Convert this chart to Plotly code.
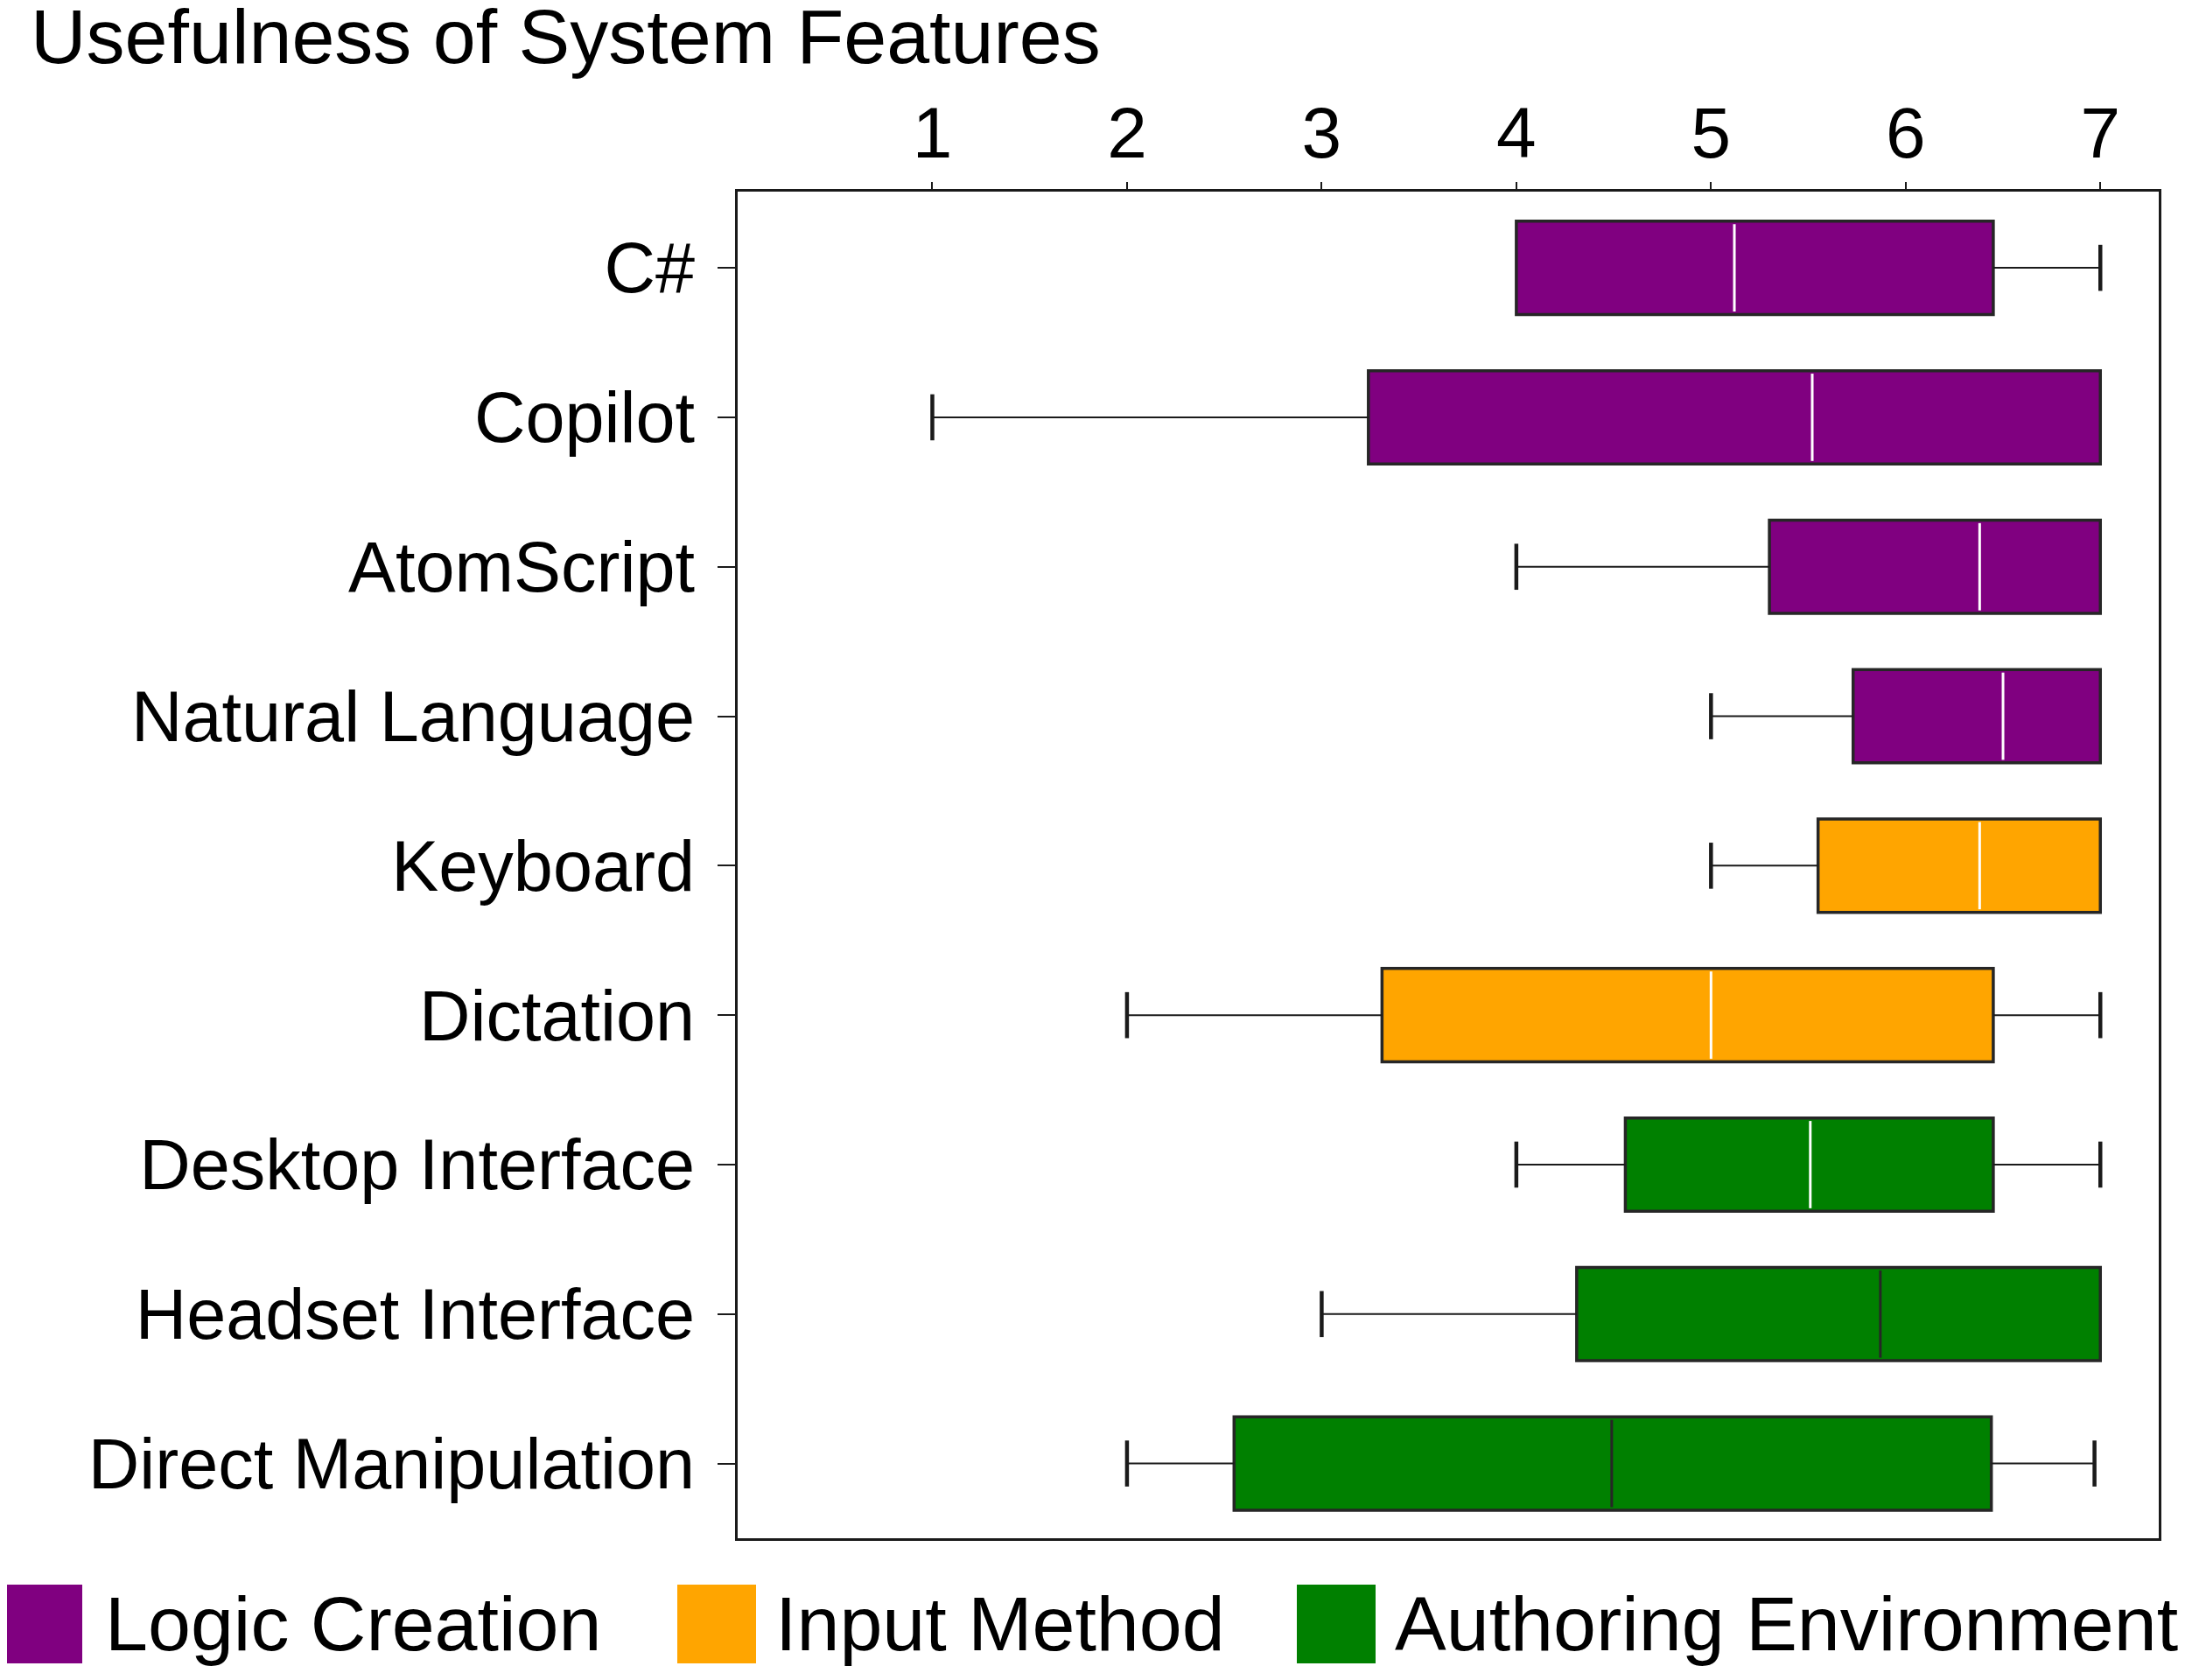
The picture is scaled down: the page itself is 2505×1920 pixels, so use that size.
import plotly.graph_objects as go

# survey rows, top to bottom
features = ["C#", "Copilot", "AtomScript", "Natural Language", "Keyboard",
            "Dictation", "Desktop Interface", "Headset Interface", "Direct Manipulation"]
group = ["Logic Creation", "Logic Creation", "Logic Creation", "Logic Creation",
         "Input Method", "Input Method",
         "Authoring Environment", "Authoring Environment", "Authoring Environment"]

# box statistics (Likert 1-7)
whisker_lo = [4, 1, 4, 5, 5, 2, 4, 3, 2]
q1 = [4.0, 3.24, 5.30, 5.73, 5.55, 3.31, 4.56, 4.31, 2.55]
median = [5.12, 5.52, 6.38, 6.50, 6.38, 5.0, 5.51, 5.87, 4.49]
q3 = [6.45, 7, 7, 7, 7, 6.45, 6.45, 7, 6.44]
whisker_hi = [7, 7, 7, 7, 7, 7, 7, 7, 6.97]

ticks = [1, 2, 3, 4, 5, 6, 7]

group_order = ["Logic Creation", "Input Method", "Authoring Environment"]
colours = {"Logic Creation": "#800080", "Input Method": "#FFA500",
           "Authoring Environment": "#008000"}
dark_median = {"Headset Interface", "Direct Manipulation"}

FONT = "Liberation Sans"
EDGE = "#262626"
# page body has an 8px margin, so the figure is 16px smaller than the window
W, H = 2489, 1904
L, R, T, B = 835, 30, 211, 154
BOX_W = 0.624
CAP = 0.154

fig = go.Figure()

# boxes as floating bars
for g in group_order:
    idx = [i for i, gg in enumerate(group) if gg == g]
    fig.add_trace(go.Bar(
        orientation="h",
        y=idx,
        base=[q1[i] for i in idx],
        x=[q3[i] - q1[i] for i in idx],
        width=BOX_W,
        marker=dict(color=colours[g], line=dict(color=EDGE, width=3.5)),
        showlegend=False, hoverinfo="skip",
    ))

# whiskers
wx, wy, cx, cy = [], [], [], []
for i in range(len(features)):
    if whisker_lo[i] < q1[i]:
        wx += [whisker_lo[i], q1[i], None]
        wy += [i, i, None]
        cx += [whisker_lo[i], whisker_lo[i], None]
        cy += [i - CAP, i + CAP, None]
    if whisker_hi[i] > q3[i]:
        wx += [q3[i], whisker_hi[i], None]
        wy += [i, i, None]
        cx += [whisker_hi[i], whisker_hi[i], None]
        cy += [i - CAP, i + CAP, None]

fig.add_trace(go.Scatter(x=wx, y=wy, mode="lines", line=dict(color="#1a1a1a", width=2),
                         showlegend=False, hoverinfo="skip"))
fig.add_trace(go.Scatter(x=cx, y=cy, mode="lines", line=dict(color="#1a1a1a", width=4.5),
                         showlegend=False, hoverinfo="skip"))

# medians
for i, f in enumerate(features):
    col = EDGE if f in dark_median else "white"
    fig.add_trace(go.Scatter(
        x=[median[i], median[i]], y=[i - BOX_W / 2 + 0.02, i + BOX_W / 2 - 0.02],
        mode="lines", line=dict(color=col, width=3),
        showlegend=False, hoverinfo="skip"))


def px_x(p):
    return (p - L) / (W - L - R)


def px_y(p):
    return (H - B - p) / (H - T - B)


# legend drawn below the plot
legend_x = [0, 766, 1474]
sq = 90
sq_top = 1803
for g, x0 in zip(group_order, legend_x):
    fig.add_shape(type="rect", xref="paper", yref="paper",
                  x0=px_x(x0), x1=px_x(x0 + sq - (4 if x0 == 0 else 0)),
                  y0=px_y(sq_top + sq), y1=px_y(sq_top),
                  fillcolor=colours[g], line=dict(width=0))
    fig.add_annotation(text=g, xref="paper", yref="paper", x=px_x(x0 + sq + 20),
                       y=px_y(sq_top + sq / 2), xanchor="left", yanchor="middle",
                       showarrow=False, font=dict(family=FONT, size=88, color="black"))

fig.update_layout(
    width=W, height=H,
    margin=dict(l=L, r=R, t=T, b=B),
    paper_bgcolor="white", plot_bgcolor="white",
    barmode="overlay",
    showlegend=False,
    font=dict(family=FONT, color="black"),
    title=dict(text="Usefulness of System Features", x=27 / W, xanchor="left",
               y=1, yref="container", yanchor="top", pad=dict(t=2),
               font=dict(family=FONT, size=88, color="black")),
    xaxis=dict(side="top", range=[0, 7.3], tickvals=ticks,
               ticks="outside", ticklen=8, tickwidth=2, tickcolor="#1a1a1a",
               showline=True, mirror=True, linecolor="#1a1a1a", linewidth=2.5,
               showgrid=False, zeroline=False, ticklabelstandoff=-5,
               tickfont=dict(family=FONT, size=82, color="black")),
    yaxis=dict(range=[8.5, -0.51], tickvals=list(range(len(features))), ticktext=features,
               ticks="outside", ticklen=20, tickwidth=2, tickcolor="#1a1a1a",
               showline=True, mirror=True, linecolor="#1a1a1a", linewidth=2.5,
               showgrid=False, zeroline=False, ticklabelstandoff=10,
               tickfont=dict(family=FONT, size=81, color="black")),
)

fig.write_html("out.html")
